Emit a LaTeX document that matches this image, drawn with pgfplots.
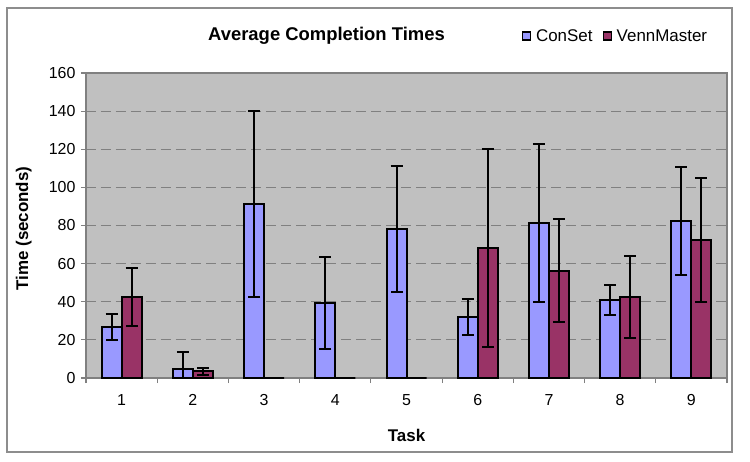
\documentclass[border=0pt]{standalone}
\usepackage{fontspec}
\setmainfont{Liberation Sans}
\usepackage{pgfplots}
\usepackage{pgfplotstable}
\pgfplotsset{compat=1.18}
\definecolor{conset}{HTML}{9999FF}
\definecolor{venn}{HTML}{993366}
\definecolor{plotbg}{HTML}{C0C0C0}
\definecolor{gridgray}{HTML}{808080}
\pgfplotstableread{
x y e
1 26.8 7.0
2 4.9 9.0
3 91.4 48.8
4 39.4 24.0
5 78.2 33.0
6 31.9 9.3
7 81.4 41.5
8 41.0 8.0
9 82.3 28.5
}\consetdata
\pgfplotstableread{
x y e
1 42.5 15.4
2 3.5 2.0
3 0 0
4 0 0
5 0 0
6 68.2 52.0
7 56.2 27.0
8 42.5 21.5
9 72.5 32.5
}\venndata
\begin{document}
\begin{tikzpicture}
\useasboundingbox (-86bp,-84bp) rectangle (664bp,378bp);
\draw[gridgray!90, line width=1.8bp] (-79bp,-74bp) rectangle (646bp,370bp);
\begin{axis}[
  at={(0,0)}, anchor=south west,
  scale only axis, width=641bp, height=305bp,
  ybar=0pt, bar width=20bp,
  xmin=0.5, xmax=9.5, ymin=0, ymax=160,
  axis background/.style={fill=plotbg},
  axis line style={gridgray, line width=1.2bp},
  xtick={1,...,9}, major x tick style={draw=none},
  minor xtick={0.5,1.5,...,9.5},
  minor x tick style={gridgray, line width=1.2bp},
  minor tick length=5bp,
  ytick={0,20,...,160},
  major y tick style={gridgray, line width=1.2bp},
  major tick length=5bp,
  tick align=outside, tick pos=left,
  ymajorgrids, major grid style={gridgray, line width=1.2bp, dash pattern=on 10bp off 5bp},
  /pgf/number format/assume math mode=true,
  ticklabel style={font=\fontsize{16}{18}\selectfont},
  xticklabel style={yshift=-8bp},
  yticklabel style={xshift=-2bp},
  xlabel={Task}, ylabel={Time (seconds)},
  label style={font=\bfseries\fontsize{17}{19}\selectfont},
  xlabel style={at={(axis description cs:0.5,-0.189)}, anchor=center},
  ylabel style={at={(axis description cs:-0.097,0.49)}, anchor=center},
  legend columns=2,
  legend style={at={(axis description cs:0.675,1.121)}, anchor=west, draw=none, fill=none,
    font=\fontsize{17}{19}\selectfont,
    /tikz/every odd column/.append style={column sep=3bp},
    /tikz/every even column/.append style={column sep=8bp}},
  legend image code/.code={\draw[#1, line width=1.2bp] (0bp,-4bp) rectangle (8bp,4bp);},
  error bars/y dir=both, error bars/y explicit,
  error bars/error mark options={rotate=90, mark size=6bp, line width=2bp, black},
  error bars/error bar style={line width=2bp, black},
]
\addplot[fill=conset, draw=black, line width=2bp] table[x=x, y=y, y error=e] {\consetdata};
\addlegendentry{ConSet}
\addplot[fill=venn, draw=black, line width=2bp] table[x=x, y=y, y error=e] {\venndata};
\addlegendentry{VennMaster}
\end{axis}
\node[font=\bfseries\fontsize{18.5}{20}\selectfont] at (240.5bp,342bp) {Average Completion Times};
\end{tikzpicture}
\end{document}
